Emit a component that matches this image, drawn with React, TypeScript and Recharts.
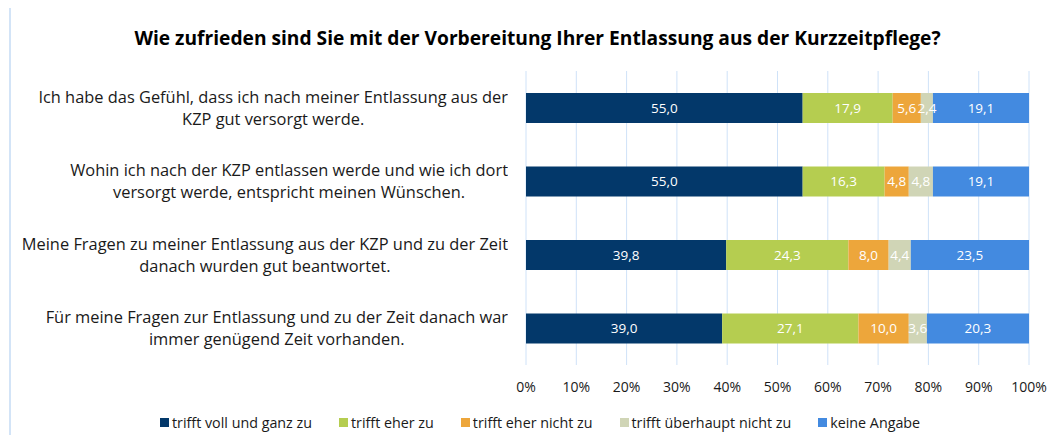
import React from 'react';
import { BarChart, CartesianGrid, XAxis, YAxis, Bar, LabelList, Legend } from 'recharts';

const CATEGORIES = [
    'Ich habe das Gefühl, dass ich nach meiner Entlassung aus der\nKZP gut versorgt werde.',
    'Wohin ich nach der KZP entlassen werde und wie ich dort\nversorgt werde, entspricht meinen Wünschen.',
    'Meine Fragen zu meiner Entlassung aus der KZP und zu der Zeit\ndanach wurden gut beantwortet.',
    'Für meine Fragen zur Entlassung und zu der Zeit danach war\nimmer genügend Zeit vorhanden.',
];

const VOLL = [55.0, 55.0, 39.8, 39.0];
const EHER = [17.9, 16.3, 24.3, 27.1];
const EHER_NICHT = [5.6, 4.8, 8.0, 10.0];
const UEBERHAUPT_NICHT = [2.4, 4.8, 4.4, 3.6];
const KEINE = [19.1, 19.1, 23.5, 20.3];

const X_TICKS = [0, 10, 20, 30, 40, 50, 60, 70, 80, 90, 100];

const SERIES = [
    { key: 'voll', name: 'trifft voll und ganz zu', color: '#03386a', values: VOLL },
    { key: 'eher', name: 'trifft eher zu', color: '#b5cd50', values: EHER },
    { key: 'eherNicht', name: 'trifft eher nicht zu', color: '#eda63b', values: EHER_NICHT },
    { key: 'nicht', name: 'trifft überhaupt nicht zu', color: '#d0d5b6', values: UEBERHAUPT_NICHT },
    { key: 'keine', name: 'keine Angabe', color: '#438ae0', values: KEINE },
];

const FONT = '"Open Sans", "Noto Sans", sans-serif';

const data = CATEGORIES.map((cat, i) => {
    const row: Record<string, any> = { cat };
    SERIES.forEach(s => { row[s.key] = s.values[i]; });
    return row;
});

const fmt = (v: any) => Number(v).toFixed(1).replace('.', ',');

const CategoryTick = ({ y, payload }: any) => (
    <foreignObject x={0} y={y - 28} width={508} height={56}>
        <div style={{ display: 'flex', justifyContent: 'flex-end', alignItems: 'center', height: 56 }}>
            <div style={{ textAlign: 'center', whiteSpace: 'pre-line', fontFamily: FONT, fontSize: 16.4, lineHeight: '22px', color: '#1a1a1a' }}>
                {payload.value}
            </div>
        </div>
    </foreignObject>
);

const CustomLegend = () => (
    <div style={{ display: 'flex', height: 20, alignItems: 'center', fontFamily: FONT, fontSize: 14.3, color: '#1a1a1a', whiteSpace: 'nowrap' }}>
        {SERIES.map(s => (
            <div key={s.key} style={{ display: 'flex', alignItems: 'center', marginRight: 27 }}>
                <span style={{ width: 9, height: 9, background: s.color, marginRight: 3, display: 'inline-block' }} />
                <span>{s.name}</span>
            </div>
        ))}
    </div>
);

export default function App() {
    return (
        <div style={{ position: 'relative', width: 1059, height: 443, margin: -8, overflow: 'hidden', background: '#fff' }}>
            <div style={{ position: 'absolute', left: 9, top: 6, width: 1100, height: 500, border: '2px solid #d3e4f7' }} />
            <div style={{ position: 'absolute', left: 0, top: 24, width: 1075, textAlign: 'center', fontFamily: FONT, fontWeight: 700, fontSize: 19.2, color: '#000' }}>
                Wie zufrieden sind Sie mit der Vorbereitung Ihrer Entlassung aus der Kurzzeitpflege?
            </div>
            <div style={{ position: 'absolute', left: 0, top: 0 }}>
                <BarChart
                    width={1059}
                    height={443}
                    data={data}
                    layout="vertical"
                    margin={{ top: 71, right: 30, left: 0, bottom: 11 }}
                    barSize={30}
                >
                    <CartesianGrid horizontal={false} stroke="#cfe2f8" />
                    <XAxis
                        type="number"
                        domain={[0, 100]}
                        ticks={X_TICKS}
                        tickFormatter={(v: number) => `${v}%`}
                        axisLine={false}
                        tickLine={false}
                        tickSize={0}
                        tickMargin={17}
                        height={47}
                        tick={{ fill: '#1a1a1a', fontSize: 14, fontFamily: FONT }}
                        interval={0}
                    />
                    <YAxis
                        dataKey="cat"
                        type="category"
                        width={526}
                        axisLine={false}
                        tickLine={false}
                        tick={<CategoryTick />}
                        interval={0}
                    />
                    <Legend
                        verticalAlign="bottom"
                        content={<CustomLegend />}
                        wrapperStyle={{ left: 160, bottom: 11, width: 'auto', height: 20 }}
                    />
                    {SERIES.map(s => (
                        <Bar key={s.key} dataKey={s.key} name={s.name} stackId="a" fill={s.color} isAnimationActive={false}>
                            <LabelList dataKey={s.key} position="center" formatter={fmt} fill="#ffffff" fontSize={13.5} fontFamily={FONT} />
                        </Bar>
                    ))}
                </BarChart>
            </div>
        </div>
    );
}
